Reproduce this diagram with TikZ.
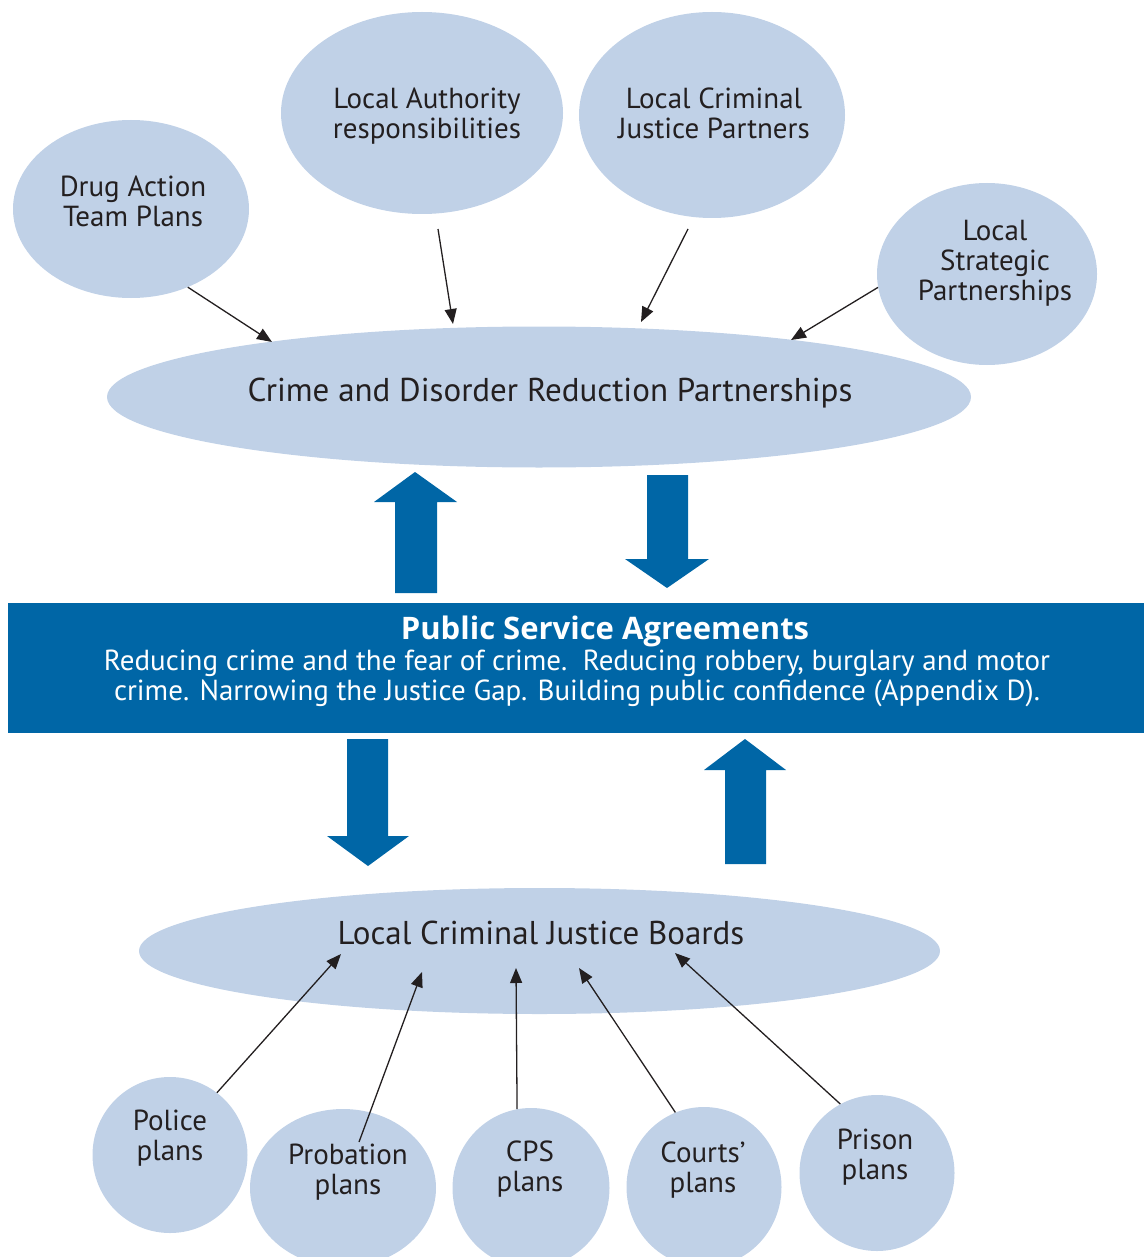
\documentclass[tikz,border=0pt]{standalone}
\usepackage{fontspec}
\setmainfont{PT Sans}
\newfontfamily\osans{Open Sans}
\usetikzlibrary{shapes.geometric,arrows.meta}
\definecolor{lightb}{RGB}{192,209,231}
\definecolor{darkb}{RGB}{0,102,166}
\definecolor{ink}{RGB}{35,31,32}
\tikzset{
  ell/.style={ellipse, fill=lightb, inner sep=0pt, draw=none},
  txt/.style={text=ink, align=center, inner sep=0pt, font=\fontsize{29}{30}\selectfont},
  conn/.style={draw=ink, line width=1.3pt, -{Triangle[length=15pt,width=12pt]}},
  fat/.style={fill=darkb, draw=none}
}
\begin{document}
\begin{tikzpicture}[x=1pt,y=-1pt]
\useasboundingbox (0,0) rectangle (1144,1257);
% top ellipses
\node[ell, minimum width=236, minimum height=178] (drug) at (131,209) {};
\node[ell, minimum width=282, minimum height=202] (la) at (422,113) {};
\node[ell, minimum width=266, minimum height=206] (lcjp) at (712,115) {};
\node[ell, minimum width=220, minimum height=182] (lsp) at (987,274) {};
\node[ell, minimum width=864, minimum height=141] (cdrp) at (539,397) {};
\node[txt] (drugT) at (133,201) {Drug Action\\Team Plans};
\node[txt] (laT) at (427,116) {Local Authority\\responsibilities};
\node[txt] (lcjpT) at (714,113) {Local Criminal\\Justice Partners};
\node[txt] (lspT) at (995,263) {Local\\Strategic\\Partnerships};
\node[txt, font=\fontsize{33}{36}\selectfont] (cdrpT) at (550,393) {Crime and Disorder Reduction Partnerships};
% PSA band
\node[rectangle, fill=darkb, inner sep=0pt, minimum width=1136, minimum height=130] (psa) at (576,668) {};
\node[txt, text=white, font=\osans\bfseries\fontsize{31}{34}\selectfont] (psaT) at (605,631) {Public Service Agreements};
\node[txt, text=white, font=\fontsize{29}{30}\selectfont] (psaL) at (577,678) {Reducing crime and the fear of crime.\ \ Reducing robbery, burglary and motor\\crime. Narrowing the Justice Gap. Building public confidence (Appendix D).};
% LCJB
\node[ell, minimum width=801, minimum height=126] (lcjb) at (539.5,951) {};
\node[txt, font=\fontsize{33}{36}\selectfont] (lcjbT) at (541,933) {Local Criminal Justice Boards};
% bottom ellipses
\node[ell, minimum width=155, minimum height=156] (police) at (170,1155) {};
\node[ell, minimum width=186, minimum height=158] (probation) at (343,1188) {};
\node[ell, minimum width=157, minimum height=160] (cps) at (531,1188) {};
\node[ell, minimum width=155, minimum height=160] (courts) at (704,1187) {};
\node[ell, minimum width=155, minimum height=156] (prison) at (877,1173) {};
\node[txt] (policeT) at (170,1138) {Police\\plans};
\node[txt] (probationT) at (348,1172) {Probation\\plans};
\node[txt] (cpsT) at (530,1169) {CPS\\plans};
\node[txt] (courtsT) at (703,1170) {Courts'\\plans};
\node[txt] (prisonT) at (875,1157) {Prison\\plans};
% fat arrows
\fill[fat] (395,593) -- (395,502) -- (374,502) -- (415,472) -- (457,502) -- (437,502) -- (437,593) -- cycle;
\fill[fat] (647,475) -- (647,559) -- (625,559) -- (667,588) -- (709,559) -- (688,559) -- (688,475) -- cycle;
\fill[fat] (347,739) -- (347,836) -- (327,836) -- (368,866) -- (409,836) -- (388,836) -- (388,739) -- cycle;
\fill[fat] (725,864) -- (725,770) -- (704,770) -- (745,739) -- (786,770) -- (766,770) -- (766,864) -- cycle;
% connector end points
\coordinate (laS) at (438,229);
\coordinate (lcjpS) at (688,229);
\coordinate (probS) at (359,1142);
\coordinate (cdrpA) at (272,342);
\coordinate (cdrpB) at (453,324);
\coordinate (cdrpC) at (641,322);
\coordinate (cdrpD) at (791,340);
\coordinate (lcjbA) at (341,954);
\coordinate (lcjbB) at (422,972);
\coordinate (lcjbC) at (516,968);
\coordinate (lcjbD) at (579,968);
\coordinate (lcjbE) at (675,953);
% connectors
\draw[conn] (drug.-54) -- (cdrpA);
\draw[conn] (laS) -- (cdrpB);
\draw[conn] (lcjpS) -- (cdrpC);
\draw[conn] (lsp.187) -- (cdrpD);
\draw[conn] (police.53) -- (lcjbA);
\draw[conn] (probS) -- (lcjbB);
\draw[conn] (cps.100.6) -- (lcjbC);
\draw[conn] (courts.111) -- (lcjbD);
\draw[conn] (prison.118.6) -- (lcjbE);
\end{tikzpicture}
\end{document}
